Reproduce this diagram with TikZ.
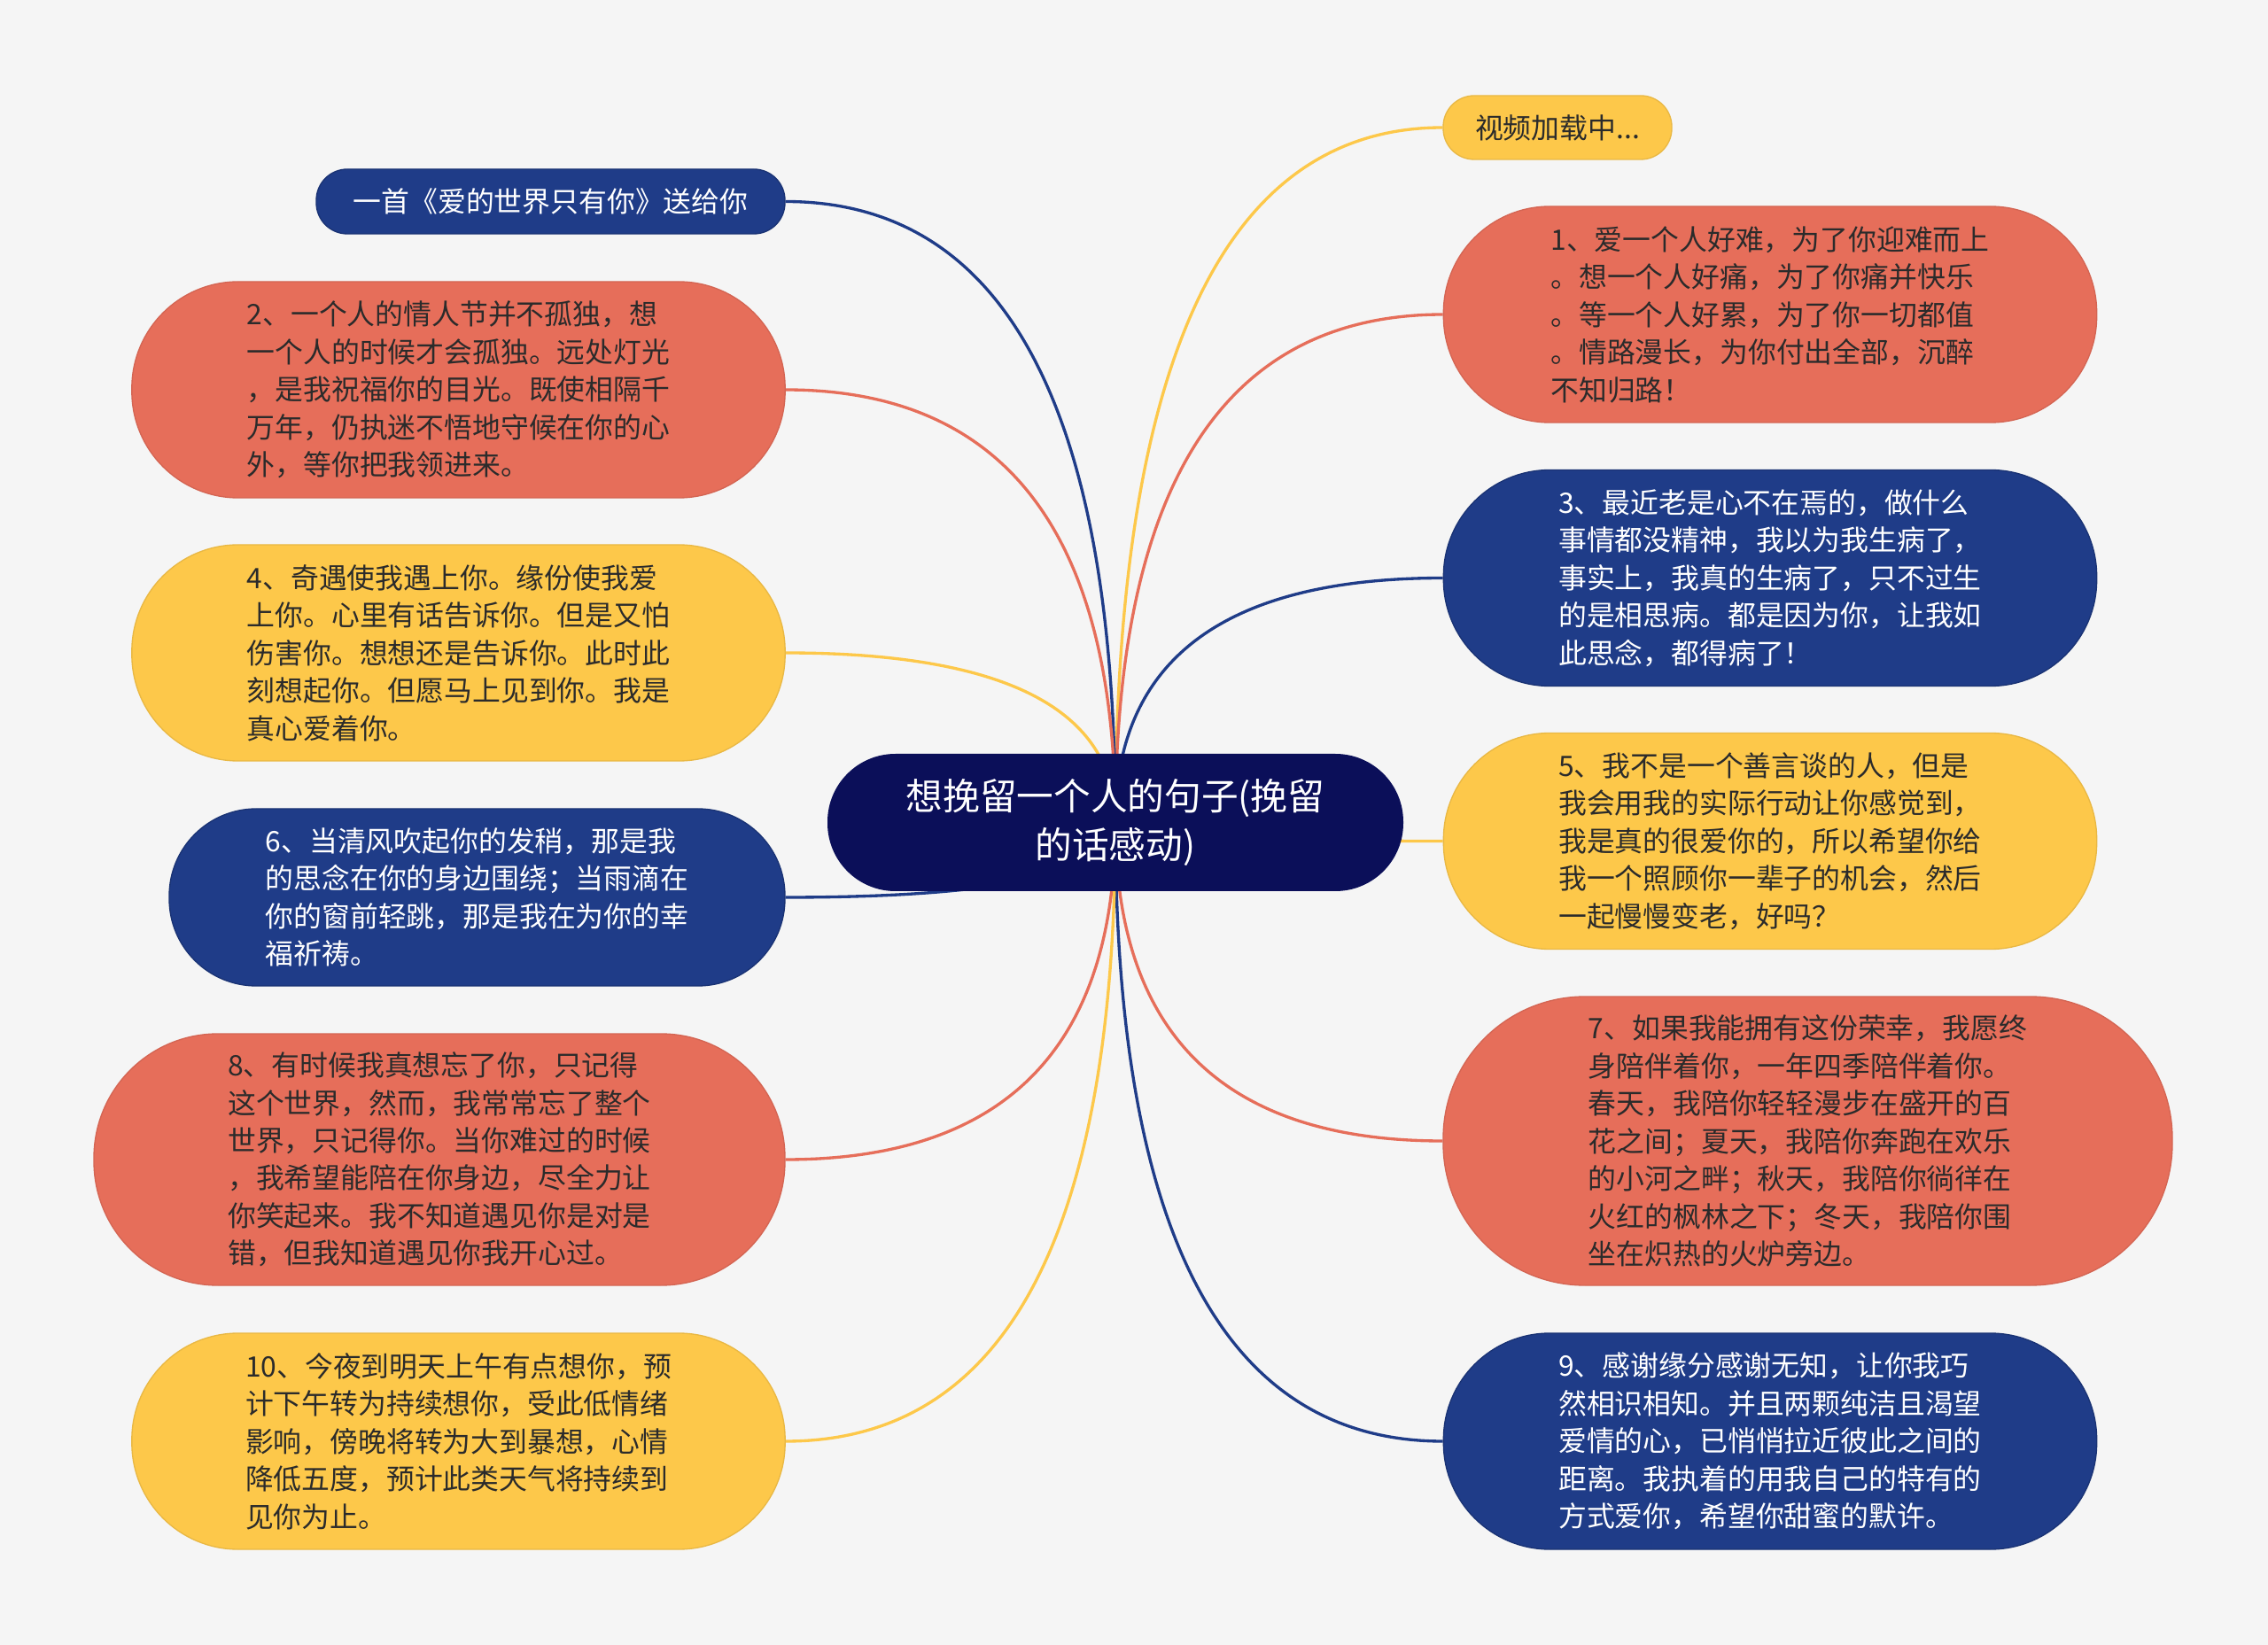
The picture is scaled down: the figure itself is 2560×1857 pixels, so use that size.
\documentclass[tikz,border=0pt]{standalone}
\usepackage{fontspec}
\newfontfamily\cjk{Noto Sans CJK SC}
\usetikzlibrary{calc}
\definecolor{bgc}{HTML}{F5F5F5}
\definecolor{redc}{HTML}{E66E5A}
\definecolor{yelc}{HTML}{FDC84A}
\definecolor{bluc}{HTML}{1F3C88}
\definecolor{navyc}{HTML}{0B0F59}
\definecolor{dtext}{HTML}{2B2B2B}
\pgfdeclarelayer{bg}
\pgfdeclarelayer{edges}
\pgfsetlayers{bg,edges,main}
\begin{document}
\begin{tikzpicture}[x=0.3pt,y=-0.3pt,
  box/.style={rectangle, align=left, inner sep=0pt, font=\cjk\fontsize{9.55pt}{12.75pt}\selectfont},
  redbox/.style={box, fill=redc, draw=redc!92!black, line width=0.4pt, text=dtext},
  yelbox/.style={box, fill=yelc, draw=yelc!92!black, line width=0.4pt, text=dtext},
  blubox/.style={box, fill=bluc, draw=bluc!85!black, line width=0.4pt, text=white},
  bigbox/.style={minimum width=221.2pt, minimum height=73.2pt, rounded corners=36pt},
  centerbox/.style={rectangle, align=center, inner sep=0pt, fill=navyc, text=white,
    font=\cjk\fontsize{12.5pt}{16.6pt}\selectfont},
  link/.style={line width=1pt}
]
\begin{pgfonlayer}{bg}
\fill[bgc] (0,0) rectangle (2560,1857);
\end{pgfonlayer}
\useasboundingbox (0,0) rectangle (2560,1857);

% central
\node[centerbox, minimum width=195pt, minimum height=46.5pt, rounded corners=23pt] (c) at (1259,928.5) {想挽留一个人的句子(挽留\\的话感动)};

% right side
\node[yelbox, minimum width=77.4pt, minimum height=21.6pt, rounded corners=10.5pt] (v) at (1758,144) {视频加载中...};
\node[redbox, bigbox] (r1) at (1998,355) {1、爱一个人好难，为了你迎难而上\\。想一个人好痛，为了你痛并快乐\\。等一个人好累，为了你一切都值\\。情路漫长，为你付出全部，沉醉\\不知归路！};
\node[blubox, bigbox] (r3) at (1998,652.5) {3、最近老是心不在焉的，做什么\\事情都没精神，我以为我生病了，\\事实上，我真的生病了，只不过生\\的是相思病。都是因为你，让我如\\此思念，都得病了！};
\node[yelbox, bigbox] (r5) at (1998,949.5) {5、我不是一个善言谈的人，但是\\我会用我的实际行动让你感觉到，\\我是真的很爱你的，所以希望你给\\我一个照顾你一辈子的机会，然后\\一起慢慢变老，好吗？};
\node[redbox, minimum width=246.9pt, minimum height=97.8pt, rounded corners=48pt] (r7) at (2040.5,1288) {7、如果我能拥有这份荣幸，我愿终\\身陪伴着你，一年四季陪伴着你。\\春天，我陪你轻轻漫步在盛开的百\\花之间；夏天，我陪你奔跑在欢乐\\的小河之畔；秋天，我陪你徜徉在\\火红的枫林之下；冬天，我陪你围\\坐在炽热的火炉旁边。};
\node[blubox, bigbox] (r9) at (1998,1627) {9、感谢缘分感谢无知，让你我巧\\然相识相知。并且两颗纯洁且渴望\\爱情的心，已悄悄拉近彼此之间的\\距离。我执着的用我自己的特有的\\方式爱你，希望你甜蜜的默许。};

% left side
\node[blubox, minimum width=158.7pt, minimum height=21.9pt, rounded corners=10.5pt] (l0) at (621.5,227.5) {一首《爱的世界只有你》送给你};
\node[redbox, bigbox] (l2) at (517.5,440) {2、一个人的情人节并不孤独，想\\一个人的时候才会孤独。远处灯光\\，是我祝福你的目光。既使相隔千\\万年，仍执迷不悟地守候在你的心\\外，等你把我领进来。};
\node[yelbox, bigbox] (l4) at (517.5,737) {4、奇遇使我遇上你。缘份使我爱\\上你。心里有话告诉你。但是又怕\\伤害你。想想还是告诉你。此时此\\刻想起你。但愿马上见到你。我是\\真心爱着你。};
\node[blubox, minimum width=208.5pt, minimum height=60pt, rounded corners=29.5pt] (l6) at (538.5,1013) {6、当清风吹起你的发稍，那是我\\的思念在你的身边围绕；当雨滴在\\你的窗前轻跳，那是我在为你的幸\\福祈祷。};
\node[redbox, minimum width=234pt, minimum height=85.2pt, rounded corners=42pt] (l8) at (496,1309) {8、有时候我真想忘了你，只记得\\这个世界，然而，我常常忘了整个\\世界，只记得你。当你难过的时候\\，我希望能陪在你身边，尽全力让\\你笑起来。我不知道遇见你是对是\\错，但我知道遇见你我开心过。};
\node[yelbox, bigbox] (l10) at (517.5,1627) {10、今夜到明天上午有点想你，预\\计下午转为持续想你，受此低情绪\\影响，傍晚将转为大到暴想，心情\\降低五度，预计此类天气将持续到\\见你为止。};

% connectors (quadratic curves: vertical at the centre, horizontal at the child)
\begin{pgfonlayer}{edges}
\foreach \n/\a/\col in {v/west/yelc, r1/west/redc, r3/west/bluc, r5/west/yelc, r7/west/redc, r9/west/bluc,
                        l0/east/bluc, l2/east/redc, l4/east/yelc, l6/east/bluc, l8/east/redc, l10/east/yelc}{
  \draw[link, \col] (c.center)
    .. controls ($(c.center)!0.6667!(c.center |- \n.\a)$)
       and ($(\n.\a)!0.6667!(c.center |- \n.\a)$) .. (\n.\a);
}
\end{pgfonlayer}
\end{tikzpicture}
\end{document}
